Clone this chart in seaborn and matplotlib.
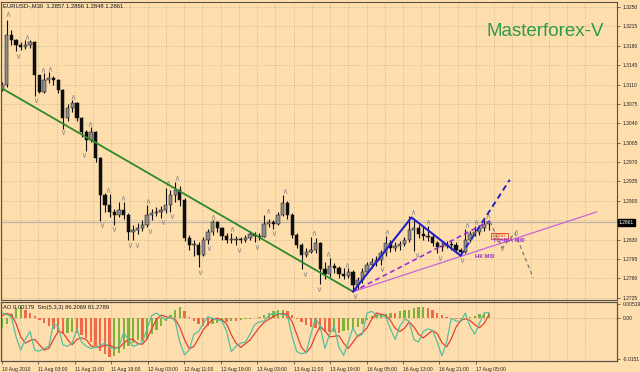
import numpy as np
import pandas as pd
import matplotlib
matplotlib.use("Agg")
import matplotlib.pyplot as plt
import seaborn as sns

# ---------------- data ----------------
first_open = 1.3100
close = [1.3109, 1.3199, 1.3190, 1.3181, 1.3178, 1.3181, 1.3187, 1.3127, 1.3097, 1.3118,
         1.3122, 1.3118, 1.3100, 1.3050, 1.3068, 1.3077, 1.3050, 1.3024, 1.3010, 1.3024,
         1.2978, 1.2911, 1.2893, 1.2880, 1.2875, 1.2884, 1.2875, 1.2844, 1.2848, 1.2851,
         1.2857, 1.2875, 1.2878, 1.2880, 1.2884, 1.2893, 1.2911, 1.2920, 1.2902, 1.2833,
         1.2821, 1.2821, 1.2803, 1.2830, 1.2844, 1.2862, 1.2851, 1.2837, 1.2830, 1.2830,
         1.2831, 1.2830, 1.2833, 1.2840, 1.2837, 1.2835, 1.2859, 1.2862, 1.2859, 1.2875,
         1.2896, 1.2875, 1.2839, 1.2821, 1.2803, 1.2808, 1.2812, 1.2824, 1.2776, 1.2767,
         1.2783, 1.2779, 1.2767, 1.2765, 1.2772, 1.2748, 1.2757, 1.2772, 1.2785, 1.2790,
         1.2794, 1.2806, 1.2824, 1.2815, 1.2819, 1.2822, 1.2830, 1.2848, 1.2851, 1.2840,
         1.2837, 1.2835, 1.2824, 1.2817, 1.2819, 1.2822, 1.2821, 1.2812, 1.2808, 1.2830,
         1.2840, 1.2844, 1.2851, 1.2859, 1.2861]
high = [1.3115, 1.3227, 1.3208, 1.3193, 1.3186, 1.3190, 1.3190, 1.3188, 1.3128, 1.3130,
        1.3132, 1.3126, 1.3120, 1.3102, 1.3075, 1.3082, 1.3078, 1.3052, 1.3028, 1.3034,
        1.3026, 1.2980, 1.2915, 1.2912, 1.2886, 1.2898, 1.2898, 1.2878, 1.2856, 1.2860,
        1.2866, 1.2893, 1.2886, 1.2888, 1.2890, 1.2924, 1.2920, 1.2934, 1.2926, 1.2905,
        1.2838, 1.2830, 1.2826, 1.2835, 1.2850, 1.2865, 1.2864, 1.2853, 1.2842, 1.2842,
        1.2836, 1.2835, 1.2838, 1.2845, 1.2844, 1.2842, 1.2874, 1.2868, 1.2866, 1.2880,
        1.2910, 1.2900, 1.2878, 1.2842, 1.2824, 1.2815, 1.2834, 1.2832, 1.2826, 1.2790,
        1.2797, 1.2788, 1.2782, 1.2778, 1.2778, 1.2775, 1.2762, 1.2778, 1.2790, 1.2796,
        1.2800, 1.2812, 1.2836, 1.2830, 1.2825, 1.2828, 1.2835, 1.2872, 1.2866, 1.2856,
        1.2852, 1.2855, 1.2840, 1.2828, 1.2826, 1.2828, 1.2827, 1.2825, 1.2815, 1.2850,
        1.2846, 1.2855, 1.2856, 1.2866, 1.2866]
low = [1.3098, 1.3105, 1.3182, 1.3170, 1.3172, 1.3174, 1.3176, 1.3090, 1.3094, 1.3095,
       1.3112, 1.3110, 1.3094, 1.3030, 1.3044, 1.3060, 1.3044, 1.3015, 1.2990, 1.3006,
       1.2970, 1.2864, 1.2880, 1.2870, 1.2856, 1.2870, 1.2868, 1.2830, 1.2830, 1.2840,
       1.2846, 1.2852, 1.2866, 1.2872, 1.2869, 1.2878, 1.2880, 1.2898, 1.2890, 1.2828,
       1.2812, 1.2800, 1.2780, 1.2800, 1.2822, 1.2838, 1.2844, 1.2830, 1.2824, 1.2823,
       1.2820, 1.2824, 1.2826, 1.2830, 1.2825, 1.2830, 1.2834, 1.2852, 1.2850, 1.2856,
       1.2872, 1.2868, 1.2832, 1.2815, 1.2776, 1.2798, 1.2805, 1.2806, 1.2750, 1.2758,
       1.2762, 1.2770, 1.2760, 1.2758, 1.2760, 1.2736, 1.2740, 1.2752, 1.2768, 1.2778,
       1.2782, 1.2784, 1.2800, 1.2808, 1.2810, 1.2812, 1.2818, 1.2826, 1.2810, 1.2832,
       1.2830, 1.2828, 1.2818, 1.2805, 1.2810, 1.2814, 1.2812, 1.2806, 1.2801, 1.2806,
       1.2826, 1.2836, 1.2838, 1.2846, 1.2848]

ao = [-0.0038, -0.0023, 0.0015, 0.0034, 0.0038, 0.0030, 0.0019, 0.0008, -0.0008, -0.0019,
      -0.0030, -0.0042, -0.0053, -0.0061, -0.0057, -0.0054, -0.0055, -0.0065, -0.0076, -0.0091,
      -0.0106, -0.0122, -0.0133, -0.0144, -0.0141, -0.0129, -0.0114, -0.0106, -0.0095, -0.0084,
      -0.0087, -0.0080, -0.0061, -0.0046, -0.0030, -0.0011, 0.0011, 0.0030, 0.0038, 0.0023,
      0.0004, -0.0011, -0.0023, -0.0030, -0.0031, -0.0023, -0.0019, -0.0015, -0.0016, -0.0011,
      -0.0012, -0.0008, -0.0004, -0.0005, 0.0000, 0.0004, 0.0011, 0.0019, 0.0023, 0.0027,
      0.0030, 0.0023, 0.0011, -0.0004, -0.0015, -0.0027, -0.0034, -0.0038, -0.0046, -0.0053,
      -0.0054, -0.0052, -0.0055, -0.0049, -0.0046, -0.0042, -0.0034, -0.0023, -0.0008, 0.0008,
      0.0011, 0.0012, 0.0015, 0.0019, 0.0018, 0.0023, 0.0027, 0.0030, 0.0034, 0.0038,
      0.0039, 0.0034, 0.0027, 0.0019, 0.0011, 0.0004, 0.0000, -0.0004, -0.0003, 0.0000,
      0.0004, 0.0008, 0.0015, 0.0017, 0.0018]

stoch_main = [85, 82, 78, 40, 15, 35, 50, 15, 13, 18, 22, 65, 60, 25, 22, 28, 55, 30, 22, 18,
              20, 24, 28, 20, 17, 22, 48, 35, 22, 25, 30, 55, 80, 85, 78, 72, 78, 70, 30, 6,
              15, 45, 50, 65, 78, 75, 72, 70, 50, 12, 22, 28, 30, 45, 63, 68, 70, 80, 85, 84,
              82, 80, 40, 12, 8, 10, 45, 75, 60, 18, 45, 60, 20, 5, 30, 57, 40, 45, 85, 88,
              82, 80, 78, 55, 35, 60, 73, 70, 35, 30, 50, 55, 52, 30, 4, 30, 75, 70, 68, 85,
              60, 45, 65, 85, 86]
stoch_signal = [80, 84, 82, 65, 40, 28, 33, 35, 25, 15, 18, 35, 50, 48, 35, 25, 35, 38, 35, 23,
                20, 21, 24, 24, 20, 19, 28, 35, 35, 27, 26, 36, 55, 73, 81, 78, 76, 73, 58, 35,
                17, 22, 37, 53, 64, 73, 75, 72, 64, 44, 28, 20, 27, 34, 46, 58, 67, 73, 78, 83,
                84, 82, 68, 44, 20, 10, 21, 43, 60, 51, 40, 41, 42, 28, 18, 30, 42, 47, 57, 73,
                85, 83, 80, 71, 56, 50, 56, 68, 59, 45, 38, 45, 52, 46, 29, 21, 36, 58, 71, 74,
                71, 63, 57, 65, 81]

# fractal markers (bar position, price)
frac_up_bar = [1.3, 5.3, 8.8, 10.3, 15.2, 18.8, 22.7, 25.9, 31.2, 35.5, 37.4, 45.1, 49.1,
               56.8, 60.5, 66.7, 69.7, 73.7, 82.3, 87.8, 91.0, 99.4, 101.3, 103.8, 109.8]
frac_up_price = [1.3237, 1.3196, 1.3136, 1.3138, 1.3088, 1.3039, 1.2920, 1.2905, 1.2900,
                 1.2932, 1.2942, 1.2871, 1.2849, 1.2882, 1.2918, 1.2842, 1.2804, 1.2785,
                 1.2844, 1.2880, 1.2862, 1.2857, 1.2862, 1.2872, 1.2844]
frac_dn_bar = [3.4, 7.3, 13.0, 17.5, 21.4, 23.9, 27.4, 28.9, 31.6, 34.4, 36.3, 42.3, 44.2,
               50.6, 54.5, 58.1, 64.7, 67.7, 75.4, 81.2, 88.7, 93.6, 98.3, 106.8]
frac_dn_price = [1.3162, 1.3082, 1.3024, 1.2983, 1.2857, 1.2849, 1.2821, 1.2821, 1.2846,
                 1.2862, 1.2873, 1.2772, 1.2815, 1.2812, 1.2817, 1.2842, 1.2768, 1.2741,
                 1.2729, 1.2776, 1.2803, 1.2797, 1.2794, 1.2815]

# drawn trendlines (bar position, price)
green_bar, green_price = [-0.2, 75.0], [1.3104, 1.2736]
blue_bar, blue_price = [75.0, 87.5, 98.0], [1.2736, 1.2870, 1.2801]
blue_dash_bar, blue_dash_price = [98.0, 108.5], [1.2801, 1.2938]
purple_dash_bar, purple_dash_price = [75.0, 104.3], [1.2736, 1.2864]
violet_bar, violet_price = [75.0, 127.1], [1.2736, 1.2880]
proj_bar, proj_price = [104.3, 106.8, 109.6, 113.5], [1.2862, 1.2815, 1.2842, 1.2761]

price_ticks = [1.3250, 1.3215, 1.3180, 1.3145, 1.3110, 1.3075, 1.3040, 1.3005, 1.2970,
               1.2935, 1.2900, 1.2865, 1.2830, 1.2795, 1.2760, 1.2725]
price_tick_labels = ["1.3250", "1.3215", "1.3180", "1.3145", "1.3110", "1.3075", "1.3040",
                     "1.3005", "1.2970", "1.2935", "1.2900", "", "1.2830", "1.2795",
                     "1.2760", "1.2725"]
ind_ticks = [0.00519, 0.0, -0.0151]
ind_tick_labels = ["0.00519", "0.00", "-0.0151"]
date_labels = ["10 Aug 2010", "11 Aug 03:00", "11 Aug 11:00", "11 Aug 19:00", "12 Aug 03:00",
               "12 Aug 11:00", "12 Aug 19:00", "13 Aug 03:00", "13 Aug 11:00", "13 Aug 19:00",
               "16 Aug 05:00", "16 Aug 13:00", "16 Aug 21:00", "17 Aug 05:00"]
last_price = 1.2861
header = "EURUSD-,M30  1.2857 1.2866 1.2848 1.2861"
ind_header = "AO 0.00179  Sto(5,3,3) 86.2069 81.2789"

# ---------------- styling ----------------
BG = "#FFDEAD"
GRID = "#BFAE8C"
FRAME = "#5A5244"
sns.set_theme(style="white", rc={"axes.facecolor": BG, "figure.facecolor": BG})
plt.rcParams["font.family"] = ["Liberation Sans", "DejaVu Sans"]

W, H = 640, 372
PX_PER_BAR = 4.68
X0 = 2.0
SMALL = 3.6


def rect(x0, y0, x1, y1):
    return [x0 / W, 1 - y1 / H, (x1 - x0) / W, (y1 - y0) / H]


def bar_of(px):
    return (px - X0) / PX_PER_BAR


fig = plt.figure(figsize=(W / 100, H / 100), dpi=100, facecolor=BG)
ax = fig.add_axes(rect(1, 1.5, 617, 300))
ax2 = fig.add_axes(rect(1, 302, 617, 361))
ax3 = ax2.twinx()
ax3.patch.set_alpha(0)

n = len(close)
bars = np.arange(n)
close_a = np.array(close)
open_a = np.array([first_open] + close[:-1])
high_a = np.array(high)
low_a = np.array(low)

xlim = (bar_of(1), bar_of(617))
label_pos = [bar_of(X0 + 36.45 * j) for j in range(len(date_labels))]
grid_pos = [bar_of(X0 + 18.225 * j) for j in range(2 * len(date_labels) + 5)]

# grids
for a in (ax, ax2):
    for g in grid_pos:
        a.axvline(g, color=GRID, lw=0.6, ls=(0, (1, 2)), zorder=0)
for p in price_ticks:
    ax.axhline(p, color=GRID, lw=0.6, ls=(0, (1, 2)), zorder=0)
ax.axhline(last_price, color="#B9B2A6", lw=0.9, zorder=1)

# candles
ax.vlines(bars, low_a, high_a, color="#101010", lw=0.8, zorder=2)
body_lo = np.minimum(open_a, close_a)
body_h = np.maximum(np.abs(close_a - open_a), 0.00006)
body_col = np.where(close_a >= open_a, "#8E8E8E", "#0E0E0E")
ax.bar(bars, body_h, bottom=body_lo, width=0.7, color=body_col,
       edgecolor="#111111", linewidth=0.35, zorder=2)

# fractals
ax.scatter(frac_up_bar, frac_up_price, marker=r"$\wedge$", s=11, color="#8A8A8A",
           linewidths=0, zorder=3)
ax.scatter(frac_dn_bar, frac_dn_price, marker=r"$\vee$", s=11, color="#8A8A8A",
           linewidths=0, zorder=3)

# trendlines
ax.plot(green_bar, green_price, color="#2C8A2A", lw=1.3, zorder=4)
ax.plot(violet_bar, violet_price, color="#C466DA", lw=0.9, zorder=4)
ax.plot(purple_dash_bar, purple_dash_price, color="#9A2FD8", lw=1.2, ls=(0, (3, 2)), zorder=4)
ax.plot(blue_bar, blue_price, color="#2222C8", lw=1.5, zorder=5)
ax.plot(blue_dash_bar, blue_dash_price, color="#2222C8", lw=1.4, ls=(0, (3, 2)), zorder=5)
ax.plot(proj_bar, proj_price, color="#7A7A7A", lw=0.9, ls=(0, (3, 2.5)), zorder=4)

ax.text(104.7, 1.2837, "1.2837", fontsize=3.6, color="#E04020", va="center",
        bbox=dict(fc="none", ec="#E04020", lw=0.6, pad=0.5), zorder=6)
ax.text(104.9, 1.2829, "ТОЧКА МФ", fontsize=4.2, color="#9932CC", fontweight="bold",
        va="center", zorder=6)
ax.text(101.1, 1.2799, "НК МФ", fontsize=4.2, color="#9932CC", fontweight="bold",
        va="center", zorder=6)

ax.set_xlim(*xlim)
ax.set_ylim(1.27209, 1.32599)
ax.yaxis.tick_right()
ax.set_yticks(price_ticks)
ax.set_yticklabels(price_tick_labels)
ax.tick_params(axis="y", labelsize=SMALL, length=2.5, width=0.6, color=FRAME, pad=1.5,
               labelcolor="#222222", right=True, left=False)
ax.tick_params(axis="x", bottom=False, labelbottom=False)
ax.set_xlabel("")
ax.set_ylabel("")

# indicator window: AO histogram + stochastic
ao_a = np.array(ao)
ao_dir = np.where(np.diff(np.concatenate([[ao_a[0] - 1e-4], ao_a])) > 0, "up", "down")
ao_df = pd.DataFrame({"bar": bars, "ao": ao_a, "dir": ao_dir})
sns.barplot(data=ao_df, x="bar", y="ao", hue="dir", native_scale=True, dodge=False,
            palette={"up": "#7FB238", "down": "#EE6A48"}, width=0.5, saturation=1,
            errorbar=None, legend=False, linewidth=0, ax=ax2)
ax2.axhline(0, color="#D08A70", lw=0.6, ls=(0, (1, 2)), zorder=0)
ax2.set_xlim(*xlim)
ax2.set_ylim(-0.0160, 0.0058)
ax2.yaxis.tick_right()
ax2.set_yticks(ind_ticks)
ax2.set_yticklabels(ind_tick_labels)
ax2.tick_params(axis="y", labelsize=SMALL, length=2.5, width=0.6, color=FRAME, pad=1.5,
                labelcolor="#222222", right=True, left=False)
ax2.set_xticks(label_pos)
ax2.set_xticklabels(date_labels, ha="left")
ax2.tick_params(axis="x", labelsize=SMALL, length=2.5, width=0.6, color=FRAME, pad=1.5,
                labelcolor="#222222", bottom=True)
ax2.set_xlabel("")
ax2.set_ylabel("")

sns.lineplot(x=bars, y=stoch_signal, ax=ax3, color="#E8402E", lw=0.9)
sns.lineplot(x=bars, y=stoch_main, ax=ax3, color="#58BE9E", lw=0.9)
ax3.set_ylim(-5.7, 105.7)
ax3.set_xlim(*xlim)
ax3.set_yticks([])
ax3.set_xlabel("")
ax3.set_ylabel("")

for a in (ax, ax2, ax3):
    for s in a.spines.values():
        s.set_color(FRAME)
        s.set_linewidth(0.8)
    a.grid(False)

# texts
fig.text(3 / W, 1 - 6 / H, header, fontsize=4.2, color="#1A1A1A", va="center")
fig.text(3 / W, 1 - 307.5 / H, ind_header, fontsize=4.2, color="#1A1A1A", va="center")
fig.text(487 / W, 1 - 31 / H, "Masterforex-V", fontsize=13.5, color="#2E9A4C", va="center")
fig.text(619 / W, 1 - 222.5 / H, f"{last_price:.4f}", fontsize=SMALL, color="white",
         va="center", bbox=dict(fc="black", ec="black", pad=0.6))

fig.savefig("out.png", dpi=100, facecolor=BG)
